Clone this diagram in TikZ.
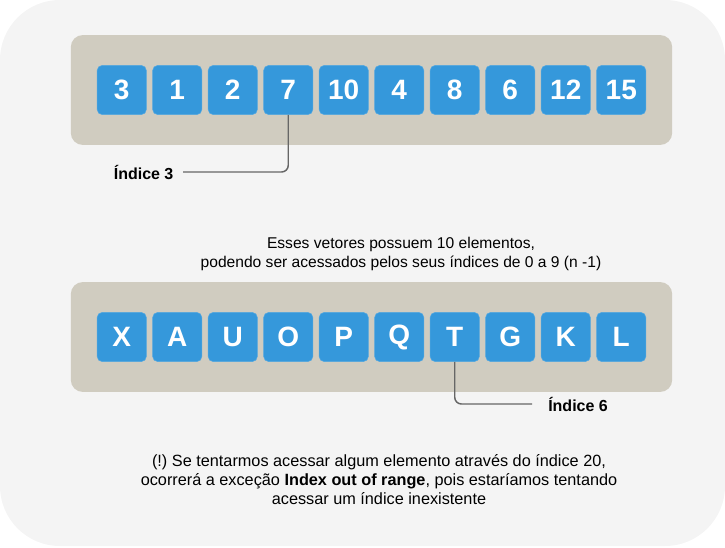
\documentclass[tikz,border=0pt]{standalone}
\usepackage{fontspec}
\setmainfont{Liberation Sans}
\usetikzlibrary{positioning, fit, backgrounds}
\definecolor{pagebg}{HTML}{F4F4F4}
\definecolor{traybg}{HTML}{D0CCC0}
\definecolor{cellbg}{HTML}{3598DB}
\definecolor{linkgray}{HTML}{666666}
\tikzstyle{cell} = [rectangle, rounded corners=4pt, fill=cellbg, draw=cellbg!85!white, line width=0.4pt, text=white, minimum size=37pt, inner sep=0pt, font=\fontsize{21}{21}\selectfont\bfseries]
\tikzstyle{tray} = [rectangle, rounded corners=9pt, fill=traybg, inner xsep=19.5pt, inner ysep=22.5pt]
\tikzstyle{idx} = [font=\fontsize{12}{14}\selectfont\bfseries, inner xsep=7pt]
\tikzstyle{note} = [align=center, font=\fontsize{11.7}{14.25}\selectfont]
\tikzstyle{link} = [draw=linkgray, line width=1.1pt, rounded corners=5pt]

\begin{document}
\begin{tikzpicture}[x=0.75pt, y=-0.75pt]
		\useasboundingbox (0,0) rectangle (725,547);
		
		% Vetor de numeros
		\foreach \val [count=\i] in {3,1,2,7,10,4,8,6,12,15}
			\node [cell] (a\i) at ({121.75+(\i-1)*55.5}, 90) {\val};
		
		% Vetor de letras
		\foreach \val [count=\i] in {X,A,U,O,P,Q,T,G,K,L}
			\node [cell] (b\i) at ({121.75+(\i-1)*55.5}, 337) {\val};
		
		% Fundo
		\begin{scope}[on background layer]
			\fill[pagebg, rounded corners=45pt] (0,0) rectangle (725,546);
			\node[tray, fit=(a1) (a10)] (vetor1) {};
			\node[tray, fit=(b1) (b10)] (vetor2) {};
		\end{scope}
		
		% Indices
		\node [idx, anchor=east] (idx3) at (183,172) {Índice 3};
		\node [idx, anchor=west, inner xsep=12pt] (idx6) at (532,404) {Índice 6};
		\draw[link] (a4.south) |- (idx3.east);
		\draw[link] (b7.south) |- (idx6.west);
		
		% Textos
		\node [note] (texto1) at (401,254) {Esses vetores possuem 10 elementos,\\podendo ser acessados pelos seus índices de 0 a 9 (n -1)};
		\node [note, font=\fontsize{12.2}{14.25}\selectfont] (texto2) at (379,480) {(!)\ Se tentarmos acessar algum elemento através do índice 20,\\ocorrerá a exceção \textbf{Index out of range}, pois estaríamos tentando\\acessar um índice inexistente};
	\end{tikzpicture}
\end{document}
